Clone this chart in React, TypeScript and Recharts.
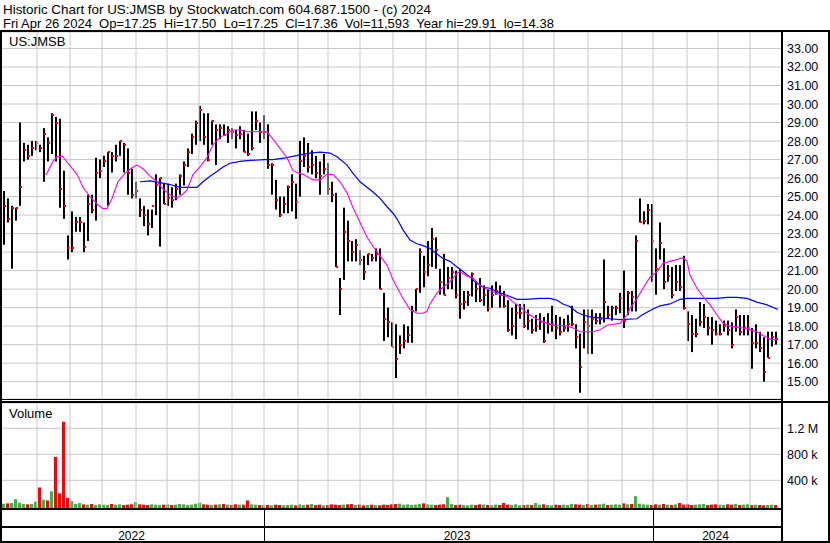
import React from 'react';
import { ComposedChart, Bar, Line, XAxis, YAxis, CartesianGrid, ReferenceLine } from 'recharts';

// ---- data (one entry per ~2 trading days) ----
const HIGH = [
  25.3, 24.9, 24.5, 24.4, 29.0, 27.9, 27.8, 28.0, 28.0, 27.8,
  28.7, 28.2, 29.5, 29.3, 29.2, 26.4, 22.9, 24.2, 23.9, 23.9,
  23.6, 25.1, 25.1, 27.1, 27.0, 27.2, 27.4, 27.4, 27.8, 28.0,
  27.9, 27.6, 26.5, 25.8, 24.9, 24.5, 24.3, 24.3, 26.2, 26.0,
  25.7, 25.7, 25.5, 25.7, 26.2, 26.9, 27.6, 28.4, 29.1, 29.9,
  29.5, 29.5, 29.1, 28.9, 28.9, 28.9, 28.8, 28.7, 28.6, 28.8,
  28.6, 28.4, 29.6, 29.6, 29.0, 29.4, 28.9, 26.8, 25.9, 25.0,
  25.0, 25.6, 26.2, 25.7, 28.0, 28.2, 27.9, 27.5, 27.2, 26.9,
  27.3, 26.8, 25.8, 25.2, 20.6, 24.4, 23.7, 22.6, 22.7, 22.1,
  21.8, 21.9, 21.9, 22.2, 22.2, 19.8, 19.0, 18.2, 18.1, 17.5,
  18.1, 18.0, 19.1, 20.0, 22.2, 21.8, 22.6, 23.3, 22.8, 21.1,
  21.9, 21.2, 21.2, 21.0, 21.1, 19.9, 19.9, 20.9, 20.4, 20.6,
  20.2, 20.0, 20.2, 20.4, 20.2, 19.9, 19.4, 19.0, 19.2, 19.2,
  19.2, 18.9, 18.4, 18.6, 18.7, 18.5, 18.7, 19.1, 18.6, 18.5,
  18.4, 18.6, 19.1, 18.1, 17.6, 18.9, 18.9, 18.9, 18.7, 18.7,
  21.6, 19.1, 19.1, 19.1, 19.8, 21.0, 19.9, 19.9, 22.9, 24.9,
  24.2, 24.6, 24.6, 22.2, 23.6, 22.2, 21.3, 21.2, 21.3, 21.3,
  21.8, 18.8, 18.6, 18.4, 19.3, 19.2, 18.5, 18.5, 18.3, 18.1,
  18.3, 18.3, 18.2, 18.9, 18.6, 18.6, 18.6, 17.9, 18.1, 17.7,
  17.4, 17.7, 17.7, 17.7,
];
const LOW = [
  22.4, 23.6, 21.1, 23.7, 24.5, 26.9, 27.0, 27.2, 27.5, 27.4,
  25.8, 26.9, 27.3, 26.9, 24.4, 23.8, 21.6, 22.0, 23.1, 23.1,
  22.0, 22.6, 24.1, 23.7, 26.0, 26.6, 24.5, 26.3, 26.9, 27.2,
  26.3, 25.1, 24.9, 24.9, 23.9, 23.4, 22.9, 23.3, 24.0, 22.3,
  24.6, 24.5, 24.4, 24.8, 25.1, 25.6, 26.6, 27.3, 27.8, 28.0,
  27.8, 26.9, 27.8, 26.7, 28.1, 28.3, 27.9, 28.1, 27.6, 28.1,
  27.4, 27.2, 27.5, 28.6, 27.9, 28.1, 26.5, 25.1, 24.3, 23.9,
  24.1, 24.1, 24.2, 23.8, 25.0, 26.6, 26.3, 26.2, 26.0, 25.1,
  26.2, 25.1, 24.7, 21.2, 18.6, 20.5, 21.5, 21.5, 21.5, 21.3,
  20.5, 21.3, 21.5, 21.5, 20.0, 17.2, 17.4, 16.9, 15.2, 16.5,
  16.8, 17.1, 17.1, 18.8, 19.8, 20.1, 20.7, 21.2, 21.1, 19.7,
  19.7, 20.0, 20.0, 19.5, 18.4, 18.9, 19.1, 19.6, 19.3, 19.3,
  19.1, 18.8, 19.0, 19.7, 19.0, 19.0, 17.7, 17.5, 17.3, 18.4,
  17.9, 17.8, 17.6, 17.7, 17.8, 17.1, 17.6, 17.7, 17.3, 17.5,
  17.7, 17.7, 18.0, 16.8, 14.4, 16.8, 16.5, 16.5, 18.1, 18.1,
  18.2, 18.4, 18.3, 18.6, 18.7, 17.9, 18.6, 18.8, 18.8, 23.6,
  23.5, 23.5, 20.4, 19.7, 21.6, 20.0, 20.4, 19.5, 19.9, 19.9,
  18.9, 17.2, 16.6, 17.4, 18.0, 17.9, 17.5, 17.0, 17.5, 17.5,
  17.7, 17.5, 16.8, 17.7, 17.5, 17.5, 17.5, 15.7, 16.8, 16.6,
  15.0, 16.3, 16.9, 17.0,
];
const CLOSE = [
  24.5, 23.8, 24.4, 24.4, 25.5, 27.5, 27.2, 27.6, 27.9, 27.6,
  28.4, 27.9, 29.4, 29.0, 25.4, 24.5, 22.2, 22.2, 23.6, 23.6,
  22.3, 24.6, 24.3, 26.3, 26.4, 26.9, 27.4, 27.2, 27.2, 28.0,
  27.8, 26.3, 25.1, 25.3, 24.3, 24.0, 23.5, 24.5, 25.6, 26.0,
  24.6, 24.9, 24.8, 25.4, 26.1, 26.7, 27.4, 28.2, 29.0, 29.7,
  28.2, 27.0, 29.1, 28.6, 28.7, 28.3, 28.6, 28.5, 28.3, 28.4,
  27.4, 27.3, 27.6, 29.1, 28.5, 28.5, 26.7, 26.7, 24.8, 24.0,
  24.6, 25.5, 25.8, 24.7, 26.9, 27.2, 26.6, 26.7, 26.3, 26.1,
  26.5, 25.4, 25.1, 21.2, 20.0, 23.1, 22.6, 22.0, 22.4, 21.6,
  20.9, 21.9, 21.7, 21.9, 20.0, 18.4, 18.2, 16.9, 16.2, 17.0,
  17.2, 17.5, 18.8, 20.0, 22.0, 20.9, 21.3, 22.7, 22.1, 20.4,
  19.7, 20.6, 20.9, 19.7, 19.2, 19.3, 19.7, 20.8, 20.0, 19.4,
  19.7, 19.0, 19.7, 19.9, 19.7, 19.1, 17.8, 18.0, 18.7, 18.7,
  18.0, 18.3, 17.8, 18.0, 18.2, 17.2, 18.1, 18.1, 17.9, 17.7,
  17.9, 18.1, 18.1, 17.4, 15.8, 18.2, 18.0, 18.4, 18.3, 18.4,
  19.3, 18.6, 19.0, 19.0, 19.5, 18.3, 19.8, 19.6, 22.6, 23.6,
  23.7, 24.3, 22.6, 21.1, 22.5, 20.4, 20.7, 19.7, 20.4, 20.1,
  19.0, 18.1, 17.6, 17.6, 18.2, 18.5, 17.9, 17.8, 17.6, 17.6,
  18.0, 17.8, 17.0, 18.5, 17.7, 17.9, 17.9, 17.1, 17.1, 16.8,
  15.5, 16.3, 17.4, 17.3,
];
// volume in thousands of shares
const VOLUME_K = [
  40, 45, 50, 110, 55, 35, 30, 35, 70, 290, 100, 90, 230, 760, 200, 1300, 130, 80, 35, 50,
  30, 25, 35, 20, 30, 25, 20, 35, 25, 30, 20, 25, 30, 65, 30, 25, 20, 30, 25, 20,
  25, 30, 20, 25, 35, 30, 20, 25, 40, 55, 30, 25, 20, 25, 30, 35, 25, 20, 30, 25,
  25, 90, 30, 25, 20, 15, 20, 15, 25, 20, 15, 20, 25, 15, 30, 20, 25, 35, 20, 25,
  15, 20, 30, 25, 20, 25, 30, 35, 20, 25, 15, 20, 25, 20, 15, 25, 20, 30, 35, 40,
  25, 30, 20, 25, 35, 45, 30, 25, 20, 25, 30, 140, 35, 20, 25, 20, 15, 25, 20, 30,
  25, 20, 15, 25, 20, 50, 25, 20, 30, 15, 20, 25, 20, 50, 25, 30, 20, 15, 25, 20,
  25, 20, 35, 30, 25, 20, 35, 20, 25, 30, 40, 20, 25, 30, 25, 45, 30, 35, 155, 40,
  30, 25, 20, 30, 25, 35, 25, 20, 30, 50, 25, 30, 20, 25, 30, 35, 20, 25, 30, 25,
  20, 30, 25, 35, 20, 25, 30, 20, 25, 20, 15, 20, 25, 20,
];
// short (pink) and long (blue) moving averages: [bar position, price]
const MA_SHORT: [number, number][] = [
  [10.5, 26.16], [12.25, 26.9], [13.25, 27.15], [14.5, 27.2], [16, 26.8], [18.25, 26.2], [19.75, 25.5],
  [21.5, 25.0], [23.25, 24.6], [24.75, 24.35], [25.75, 24.35], [27, 24.9], [28.5, 25.8], [30.25, 26.25],
  [32.25, 26.6], [33.25, 26.7], [34.75, 26.5], [36.5, 26.1], [38.25, 25.8], [39.75, 25.4], [41.5, 25.1],
  [43.25, 24.9], [44.5, 25.1], [45.75, 25.35], [47.25, 26.2], [49, 26.6], [50.75, 27.1], [52.25, 27.8],
  [54, 28.2], [55.75, 28.4], [57.25, 28.6], [59, 28.6], [60.75, 28.5], [62.25, 28.5], [64, 28.5],
  [65.75, 28.5], [67.25, 28.1], [69, 27.6], [70.75, 27.1], [72.25, 26.4], [73.25, 26.3], [74.75, 26.2],
  [77.25, 25.9], [79, 25.9], [80.75, 26.2], [82.25, 26.2], [84, 25.8], [85.75, 25.2], [87.25, 24.4],
  [89, 23.6], [90.75, 22.8], [92.25, 22.3], [94, 21.8], [95.75, 21.3], [97.25, 20.5], [98.25, 20.1],
  [99.75, 19.5], [101.5, 18.9], [103.25, 18.7], [104.75, 18.7], [105.75, 18.8], [106.5, 19.2],
  [108.25, 19.8], [109.75, 20.1], [111.5, 20.4], [113.25, 20.85], [114, 20.95], [115.75, 20.7],
  [117.25, 20.6], [119, 20.2], [120.75, 20.0], [122.25, 19.85], [124, 19.7], [125.75, 19.6],
  [127.25, 19.3], [129, 19.05], [130.75, 18.7], [132.25, 18.5], [134, 18.3], [135.75, 18.15],
  [137.25, 18.05], [139, 18.05], [140.75, 18.0], [142.25, 17.9], [144, 17.7], [145.75, 17.7],
  [147.25, 17.7], [149, 17.8], [150.75, 18.05], [152.25, 18.1], [154, 18.15], [155.75, 18.6],
  [156.5, 18.95], [158.25, 19.5], [159.75, 20.05], [161.5, 20.65], [163.25, 20.95], [164.75, 21.4],
  [166.5, 21.5], [168.25, 21.6], [169.75, 21.7], [170.75, 21.5], [171.5, 20.75], [173.25, 20.05],
  [174.75, 19.6], [176.5, 19.15], [178.25, 18.6], [179.75, 18.15], [181.5, 18.0], [183.25, 17.95],
  [184.75, 17.9], [186.5, 17.8], [188.25, 17.7], [189.75, 17.5], [191.5, 17.3], [193.25, 17.25],
];
const MA_LONG: [number, number][] = [
  [34, 25.8], [36.5, 25.85], [39, 25.75], [41.5, 25.65], [44, 25.5], [46.5, 25.5], [48.25, 25.5],
  [49.75, 25.8], [51.5, 26.1], [53.25, 26.35], [54.75, 26.6], [56.5, 26.8], [59, 26.9], [61.5, 26.95],
  [65.25, 27.0], [67.25, 27.0], [70.75, 27.1], [74, 27.25], [76.5, 27.35], [79, 27.4], [81.5, 27.35],
  [83.25, 27.15], [85.75, 26.7], [87.25, 26.25], [89, 25.8], [90.75, 25.5], [92.25, 25.25], [94, 24.9],
  [95.75, 24.45], [97.25, 24.1], [98.25, 23.8], [99.75, 23.2], [101.5, 22.65], [103.25, 22.45],
  [104.75, 22.35], [106.5, 22.2], [108.25, 21.9], [109.75, 21.65], [111.5, 21.5], [113.25, 21.2],
  [114.75, 20.95], [116.5, 20.65], [118.25, 20.3], [119.75, 20.1], [121.5, 20.05], [123.25, 19.85],
  [124.75, 19.75], [126.5, 19.6], [128.25, 19.45], [130.25, 19.45], [134, 19.5], [136.5, 19.5],
  [138.25, 19.4], [139.75, 19.2], [141.5, 19.05], [143.25, 18.75], [144.75, 18.6], [146.5, 18.5],
  [149, 18.45], [151.5, 18.4], [154, 18.35], [158.25, 18.4], [159.5, 18.6], [160.75, 18.75],
  [162, 18.9], [164, 19.1], [166.5, 19.2], [169, 19.45], [170.75, 19.5], [173.25, 19.5],
  [178.25, 19.5], [180.75, 19.55], [183.25, 19.55], [185.75, 19.5], [188.25, 19.3], [190.75, 19.15],
  [193.5, 18.9],
];
// first bar of each month (bar positions)
const MONTH_STARTS = [8.25, 16.5, 24.5, 33, 40.75, 48.75, 57, 65, 73.5, 81, 89, 97.25, 105.5, 113.5,
  121.5, 129.75, 137.5, 146, 154.5, 162.25, 170.75, 178.5, 186.5];
const PRICE_TICKS = [15, 16, 17, 18, 19, 20, 21, 22, 23, 24, 25, 26, 27, 28, 29, 30, 31, 32, 33];
const VOLUME_TICKS = [400000, 800000, 1200000];
const YEARS = ['2022', '2023', '2024'];
const TITLE = 'Historic Chart for US:JMSB by Stockwatch.com 604.687.1500 - (c) 2024';
const SUBTITLE = 'Fri Apr 26 2024  Op=17.25  Hi=17.50  Lo=17.25  Cl=17.36  Vol=11,593  Year hi=29.91  lo=14.38';
const SYMBOL = 'US:JMSB';

const X_DOMAIN: [number, number] = [-0.5, 194.25];
const PRICE_DOMAIN: [number, number] = [14.065, 33.89];
const VOL_MIN = -26000;
const VOL_DOMAIN: [number, number] = [VOL_MIN, 1589000];

const priceData = HIGH.map((h, i) => ({ i, range: [LOW[i], h], h, l: LOW[i], c: CLOSE[i] }));
const volData = VOLUME_K.map((v, i) => ({
  i,
  vr: [VOL_MIN, v * 1000],
  up: i === 0 ? true : CLOSE[i] >= CLOSE[i - 1],
}));
const shortData = MA_SHORT.map(([i, v]) => ({ i, v }));
const longData = MA_LONG.map(([i, v]) => ({ i, v }));

const FONT = '"Liberation Sans", Arial, Helvetica, sans-serif';
const GRID = '#c8c8c8';

const OhlcShape = (props: any) => {
  let { x, y, width, height, payload } = props;
  if (x == null || y == null || !payload) return null;
  if (height < 0) { y += height; height = -height; }
  const cx = Math.round(x + width / 2);
  const span = payload.h - payload.l || 1;
  const cy = Math.round(y + ((payload.h - payload.c) / span) * height);
  return (
    <g>
      <rect x={cx - 1} y={y} width={2} height={Math.max(height, 1)} fill="#000" />
      <rect x={cx} y={cy - 1} width={2} height={2} fill="#ff0000" />
    </g>
  );
};

const VolShape = (props: any) => {
  let { x, y, width, height, payload } = props;
  if (x == null || y == null || !payload) return null;
  if (height < 0) { y += height; height = -height; }
  return <rect x={x} y={y} width={width} height={height} fill={payload.up ? '#44b044' : '#ff0000'} />;
};

const AxisTick = (props: any) => {
  const { x, y, payload, fmt } = props;
  return (
    <text x={x} y={y} dy="0.36em" textAnchor="start" fontSize={12.5} fill="#000022" fontFamily={FONT}>
      {fmt(payload.value)}
    </text>
  );
};

const fmtPrice = (v: number) => v.toFixed(2);
const fmtVol = (v: number) => (v >= 1000000 ? `${(v / 1000000).toFixed(1)} M` : `${Math.round(v / 1000)} k`);

const line = (style: React.CSSProperties) => (
  <div style={{ position: 'absolute', background: '#000', ...style }} />
);

const monthLines = () =>
  MONTH_STARTS.map((m) => (
    <ReferenceLine key={m} x={m} stroke={GRID} strokeWidth={1} ifOverflow="hidden" />
  ));

export default function App() {
  return (
    <div style={{ position: 'absolute', left: 0, top: 0, width: 830, height: 543, background: '#fff', fontFamily: FONT, overflow: 'hidden' }}>
      {/* header */}
      <div style={{ position: 'absolute', left: 3, top: 3, fontSize: 13.4, lineHeight: '13px', color: '#000', whiteSpace: 'pre' }}>{TITLE}</div>
      <div style={{ position: 'absolute', left: 3, top: 17, fontSize: 13, lineHeight: '13px', color: '#000', whiteSpace: 'pre' }}>{SUBTITLE}</div>

      {/* price panel */}
      <div style={{ position: 'absolute', left: 0, top: 0 }}>
        <ComposedChart width={830} height={399} margin={{ top: 32, right: 0, bottom: 0, left: 2 }} data={priceData}>
          <CartesianGrid stroke={GRID} strokeWidth={1} vertical={false} />
          <XAxis type="number" dataKey="i" domain={X_DOMAIN} ticks={MONTH_STARTS} interval={0}
            allowDataOverflow height={0} tick={false} axisLine={false} tickLine={false} />
          <YAxis orientation="right" width={49} domain={PRICE_DOMAIN} ticks={PRICE_TICKS} interval={0}
            allowDataOverflow axisLine={false} tickLine={false} tickSize={6} tickMargin={0}
            tick={<AxisTick fmt={fmtPrice} />} />
          {monthLines()}
          <Bar dataKey="range" barSize={2} shape={<OhlcShape />} isAnimationActive={false} />
          <Line data={longData} dataKey="v" type="linear" stroke="#0000ff" strokeWidth={1.2} dot={false}
            activeDot={false} isAnimationActive={false} />
          <Line data={shortData} dataKey="v" type="linear" stroke="#ff00ff" strokeWidth={1.1} dot={false}
            activeDot={false} isAnimationActive={false} />
        </ComposedChart>
      </div>

      {/* volume panel */}
      <div style={{ position: 'absolute', left: 0, top: 403 }}>
        <ComposedChart width={830} height={105} margin={{ top: 0, right: 0, bottom: 0, left: 2 }} data={volData}>
          <CartesianGrid stroke={GRID} strokeWidth={1} vertical={false} />
          <XAxis type="number" dataKey="i" domain={X_DOMAIN} ticks={MONTH_STARTS} interval={0}
            allowDataOverflow height={0} tick={false} axisLine={false} tickLine={false} />
          <YAxis orientation="right" width={49} domain={VOL_DOMAIN} ticks={VOLUME_TICKS} interval={0}
            allowDataOverflow axisLine={false} tickLine={false} tickSize={6} tickMargin={0}
            tick={<AxisTick fmt={fmtVol} />} />
          {monthLines()}
          <Bar dataKey="vr" barSize={3} shape={<VolShape />} isAnimationActive={false} />
        </ComposedChart>
      </div>

      {/* labels */}
      <div style={{ position: 'absolute', left: 9, top: 35, fontSize: 13, lineHeight: '13px', color: '#000' }}>{SYMBOL}</div>
      <div style={{ position: 'absolute', left: 9, top: 407, fontSize: 13, lineHeight: '13px', color: '#000' }}>Volume</div>

      {/* frame */}
      {line({ left: 0, top: 30, width: 830, height: 2 })}
      {line({ left: 0, top: 30, width: 2, height: 513 })}
      {line({ left: 828, top: 30, width: 2, height: 513 })}
      {line({ left: 781, top: 30, width: 2, height: 513 })}
      {line({ left: 0, top: 399, width: 783, height: 1 })}
      {line({ left: 0, top: 401, width: 830, height: 2 })}
      {line({ left: 0, top: 508, width: 783, height: 2 })}
      {line({ left: 0, top: 526, width: 783, height: 2 })}
      {line({ left: 0, top: 541, width: 830, height: 2 })}
      {line({ left: 264, top: 510, width: 1, height: 31 })}
      {line({ left: 653, top: 510, width: 1, height: 31 })}

      {/* year labels */}
      {[[2, 264], [264, 653], [653, 781]].map(([a, b], k) => (
        <div key={YEARS[k]} style={{ position: 'absolute', left: a - 1.5, width: b - a, top: 529.5, fontSize: 12,
          lineHeight: '12px', textAlign: 'center', color: '#000' }}>{YEARS[k]}</div>
      ))}
    </div>
  );
}
